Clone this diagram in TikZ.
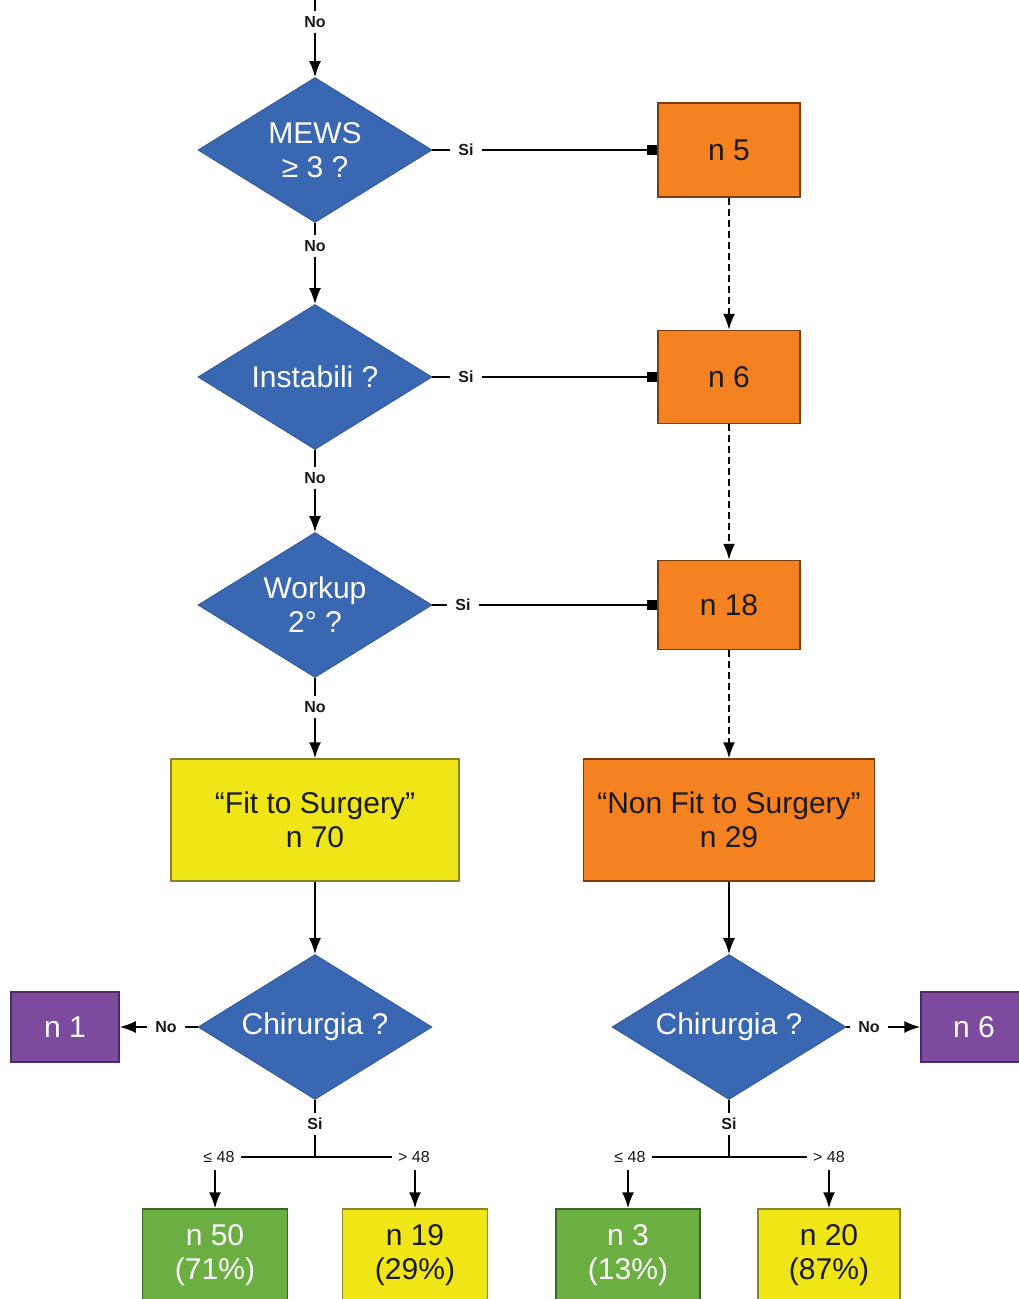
\documentclass[tikz,border=0pt]{standalone}
\usepackage{fontspec}
\setmainfont{Liberation Sans}
\usetikzlibrary{shapes.geometric,arrows.meta}
\definecolor{qblue}{HTML}{3A67B1}
\definecolor{qblueD}{HTML}{2F5796}
\definecolor{qorange}{HTML}{F58220}
\definecolor{qorangeD}{HTML}{7A3C12}
\definecolor{qyellow}{HTML}{F0E617}
\definecolor{qyellowD}{HTML}{8A8426}
\definecolor{qgreen}{HTML}{6BAE42}
\definecolor{qgreenD}{HTML}{3B6624}
\definecolor{qpurple}{HTML}{7D4B9D}
\definecolor{qpurpleD}{HTML}{4D2B66}
\definecolor{qtext}{HTML}{1A1A1A}
\begin{document}
\begin{tikzpicture}[x=1pt,y=-1pt,
  decision/.style={diamond, fill=qblue, draw=qblueD, line width=0.8pt,
    minimum width=234pt, minimum height=145pt, inner sep=0pt, aspect=1.6,
    text=white, align=center, font=\fontsize{30}{34}\selectfont},
  box/.style={rectangle, line width=1.5pt, inner sep=0pt, align=center,
    font=\fontsize{30}{34}\selectfont},
  orangebox/.style={box, fill=qorange, draw=qorangeD, text=qtext},
  yellowbox/.style={box, fill=qyellow, draw=qyellowD, text=qtext},
  greenbox/.style={box, fill=qgreen, draw=qgreenD, text=white},
  purplebox/.style={box, fill=qpurple, draw=qpurpleD, text=white},
  lbl/.style={fill=white, inner xsep=8pt, inner ysep=5pt, text=qtext,
    font=\bfseries\fontsize{16}{18}\selectfont},
  thr/.style={fill=white, inner xsep=6pt, inner ysep=7pt, text=qtext,
    font=\fontsize{16}{18}\selectfont},
  link/.style={line width=1.8pt, draw=black},
  arr/.style={link, -{Latex[length=16pt,width=12pt]}},
  sqlink/.style={link, -{Square[length=10pt,width=10pt]}},
  dashlink/.style={arr, dash pattern=on 7pt off 4pt}]
\useasboundingbox (0,0) rectangle (1019,1299);

% decisions on the left column
\coordinate (start) at (315,0);
\node[decision] (d1) at (315,150) {MEWS\\≥ 3 ?};
\node[decision] (d2) at (315,377) {Instabili ?};
\node[decision] (d3) at (315,605) {Workup\\2° ?};

% outcomes on the right column
\node[orangebox, minimum width=142pt, minimum height=94pt] (b5) at (729,150) {n 5};
\node[orangebox, minimum width=142pt, minimum height=93pt] (b6) at (729,377) {n 6};
\node[orangebox, minimum width=142pt, minimum height=89pt] (b18) at (729,605) {n 18};

\node[yellowbox, minimum width=288pt, minimum height=122pt] (fit) at (315,820) {“Fit to Surgery”\\n 70};
\node[orangebox, minimum width=291pt, minimum height=122pt] (nonfit) at (729,820) {“Non Fit to Surgery”\\n 29};

\node[decision] (c1) at (315,1027) {Chirurgia ?};
\node[decision] (c2) at (729,1027) {Chirurgia ?};

\node[purplebox, minimum width=108pt, minimum height=70pt] (p1) at (65,1027) {n 1};
\node[purplebox, minimum width=106pt, minimum height=70pt] (p6) at (974,1027) {n 6};

\node[greenbox, minimum width=145pt, minimum height=92pt] (g1) at (215,1255) {n 50\\(71\%)};
\node[yellowbox, minimum width=145pt, minimum height=92pt] (y1) at (415,1255) {n 19\\(29\%)};
\node[greenbox, minimum width=144pt, minimum height=92pt] (g2) at (628,1255) {n 3\\(13\%)};
\node[yellowbox, minimum width=142pt, minimum height=92pt] (y2) at (829,1255) {n 20\\(87\%)};

% main vertical flow
\draw[arr] (start) -- (d1.north);
\node[lbl] (no0) at (315,22) {No};
\draw[arr] (d1.south) -- (d2.north);
\node[lbl] (no1) at (315,246) {No};
\draw[arr] (d2.south) -- (d3.north);
\node[lbl] (no2) at (315,478) {No};
\draw[arr] (d3.south) -- (fit.north);
\node[lbl] (no3) at (315,707) {No};

% yes branches
\draw[sqlink] (d1.east) -- (b5.west);
\node[lbl] (si1) at (466,150) {Si};
\draw[sqlink] (d2.east) -- (b6.west);
\node[lbl] (si2) at (466,377) {Si};
\draw[sqlink] (d3.east) -- (b18.west);
\node[lbl] (si3) at (463,605) {Si};

% dashed chain on the right
\draw[dashlink] (b5.south) -- (b6.north);
\draw[dashlink] (b6.south) -- (b18.north);
\draw[dashlink] (b18.south) -- (nonfit.north);

% surgery decisions
\draw[arr] (fit.south) -- (c1.north);
\draw[arr] (nonfit.south) -- (c2.north);
\draw[arr] (c1.west) -- (p1.east);
\node[lbl] (no4) at (166,1027) {No};
\draw[arr] (c2.east) -- (p6.west);
\node[lbl] (no5) at (869,1027) {No};

% timing split, left
\coordinate (j1) at (315,1157);
\coordinate (l1) at (215,1157);
\coordinate (r1) at (415,1157);
\draw[link] (c1.south) -- (j1);
\draw[link] (l1) -- (r1);
\draw[arr] (l1) -- (g1.north);
\draw[arr] (r1) -- (y1.north);
\node[lbl] (si4) at (315,1124) {Si};
\node[thr] (le1) at (219,1157) {≤ 48};
\node[thr] (gt1) at (414,1157) {> 48};

% timing split, right
\coordinate (j2) at (729,1157);
\coordinate (l2) at (628,1157);
\coordinate (r2) at (829,1157);
\draw[link] (c2.south) -- (j2);
\draw[link] (l2) -- (r2);
\draw[arr] (l2) -- (g2.north);
\draw[arr] (r2) -- (y2.north);
\node[lbl] (si5) at (729,1124) {Si};
\node[thr] (le2) at (630,1157) {≤ 48};
\node[thr] (gt2) at (829,1157) {> 48};
\end{tikzpicture}
\end{document}
